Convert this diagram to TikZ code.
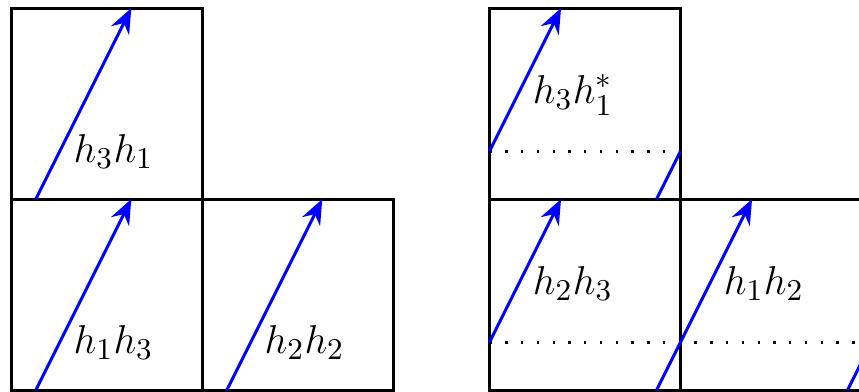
\documentclass[tikz,border=0pt]{standalone}
\usepackage{amsmath, amssymb}
\usepackage{tikz}
\usetikzlibrary{arrows.meta}

\begin{document}
\begin{tikzpicture}[line width=0.9pt,
  vec/.style={blue, line width=0.9pt, -{Stealth[length=7.5pt, width=6pt, inset=2.5pt]}},
  seg/.style={blue, line width=0.9pt},
  cut/.style={line width=0.7pt, dash pattern=on 0.7pt off 4pt},
  lab/.style={anchor=base west, inner sep=0pt, font=\fontsize{12.8}{15}\selectfont}]
\clip (-0.125,-0.01) rectangle (8.87,4.085);
% left picture
\draw (0,0) rectangle (2,2);
\draw (2,0) rectangle (4,2);
\draw (0,2) rectangle (2,4);
\foreach \x/\y in {0/2, 0/0, 2/0} {
  \draw[vec] (\x+0.25,\y) -- (\x+1.25,\y+2);
}
\node[lab] (h31) at (0.63,2.38) {$h_3h_1$};
\node[lab] (h13) at (0.63,0.38) {$h_1h_3$};
\node[lab] (h22) at (2.63,0.38) {$h_2h_2$};
% right picture, shifted arrows
\begin{scope}[xshift=5cm]
\draw (0,0) rectangle (2,2);
\draw (2,0) rectangle (4,2);
\draw (0,2) rectangle (2,4);
\draw[cut] (0,2.5) -- (2,2.5);
\draw[cut] (0,0.5) -- (4,0.5);
\foreach \x/\y in {0/2, 0/0, 2/0} {
  \draw[vec] (\x,\y+0.5) -- (\x+0.75,\y+2);
  \draw[seg] (\x+1.75,\y) -- (\x+2,\y+0.5);
}
\node[lab] (h31s) at (0.44,3.0) {$h_3h_1^*$};
\node[lab] (h23) at (0.44,1.0) {$h_2h_3$};
\node[lab] (h12) at (2.44,1.0) {$h_1h_2$};
\end{scope}
\end{tikzpicture}
\end{document}
